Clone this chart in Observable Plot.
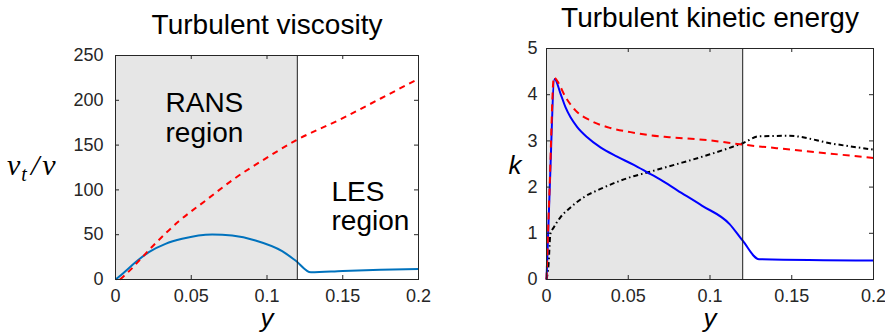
<!DOCTYPE html>
<html><head><meta charset="utf-8">
<script src="https://cdn.jsdelivr.net/npm/d3@7"></script>
<script src="https://cdn.jsdelivr.net/npm/@observablehq/plot@0.6"></script>
<style>
body{margin:0;background:#fff;}
#wrap{position:relative;width:885px;height:334px;overflow:hidden;background:#fff;}
#wrap svg{position:absolute;top:0;}
</style></head><body><div id="wrap"></div>
<script>
// ---- shared ----
const ransLesSplit = 0.12;
const xTicks = [0, 0.05, 0.1, 0.15, 0.2];
const xTickLabels = ["0", "0.05", "0.1", "0.15", "0.2"];
const nutTicks = [0, 50, 100, 150, 200, 250];
const kTicks = [0, 1, 2, 3, 4, 5];
const titles = ["Turbulent viscosity", "Turbulent kinetic energy"];
const regionLabels = ["RANS\nregion", "LES\nregion"];

// ---- left panel: nu_t / nu ----
const nutHybridY = [0, 0.006, 0.0132, 0.022, 0.033, 0.044, 0.0638, 0.077, 0.0924, 0.11, 0.1188, 0.129, 0.15, 0.175, 0.2];
const nutHybridV = [0, 8.5, 19.3, 30.5, 39.8, 45.4, 50.2, 49, 43.5, 31.6, 21.2, 8.0, 9.5, 10.8, 11.8];
const nutRansY = [0.003, 0.01, 0.015, 0.025, 0.0418, 0.0594, 0.078, 0.099, 0.1188, 0.15, 0.175, 0.2];
const nutRansV = [0, 11, 20, 38, 65, 88, 112, 135, 155, 180, 202, 224];

// ---- right panel: k ----
const kBlueY = [0, 0.002, 0.0049, 0.0086, 0.0116, 0.0147, 0.0188, 0.0249, 0.033, 0.0432, 0.0534, 0.0616, 0.0697, 0.08, 0.095, 0.112, 0.12, 0.13, 0.2];
const kBlueV = [0, 2.0, 4.34, 4.02, 3.73, 3.51, 3.30, 3.08, 2.86, 2.66, 2.48, 2.32, 2.16, 1.93, 1.60, 1.2, 0.84, 0.44, 0.41];
const kRedY = [0, 0.002, 0.0045, 0.0065, 0.0116, 0.0177, 0.0269, 0.039, 0.0514, 0.0636, 0.075, 0.1, 0.12, 0.15, 0.2];
const kRedV = [0, 2.1, 4.38, 4.30, 3.95, 3.66, 3.44, 3.28, 3.19, 3.12, 3.08, 3.01, 2.92, 2.81, 2.63];
const kBlackY = [0, 0.0012, 0.0024, 0.0045, 0.0086, 0.0147, 0.0228, 0.033, 0.043, 0.05, 0.062, 0.08, 0.1, 0.112, 0.12, 0.13, 0.148, 0.175, 0.2];
const kBlackV = [0, 0.3, 0.99, 1.13, 1.35, 1.56, 1.78, 1.96, 2.11, 2.20, 2.32, 2.50, 2.71, 2.85, 2.95, 3.10, 3.11, 2.94, 2.81];

const zip = (xs, vs) => xs.map((x, i) => ({x, v: vs[i]}));
const axisColor = "#262626";
const font = "'Liberation Sans', Arial, Helvetica, sans-serif";

function panel({width, height, mt, mr, mb, ml, yDomain, yTicks, yPad, series, title, titleDy, regionMarks, extra}) {
  const H = height - mt - mb;
  const W = width - ml - mr;
  const tick = 4;
  return Plot.plot({
    width, height,
    marginTop: mt, marginRight: mr, marginBottom: mb, marginLeft: ml,
    x: {domain: [0, 0.2]},
    y: {domain: yDomain},
    style: {fontFamily: font, fontSize: "18px", color: axisColor, background: "white", overflow: "visible"},
    marks: [
      Plot.rect([{from: 0, to: ransLesSplit}], {x1: "from", x2: "to", fill: "#e6e6e6"}),
      ...series.map(s => Plot.line(s.data, {x: "x", y: "v", curve: "monotone-x", stroke: s.stroke, strokeWidth: s.width || 2, strokeDasharray: s.dash, strokeLinecap: "butt", strokeLinejoin: "round"})),
      Plot.ruleX([ransLesSplit], {stroke: "#1a1a1a", strokeWidth: 1}),
      Plot.ruleX(xTicks, {x: d => d, insetTop: H - tick, stroke: axisColor}),
      Plot.ruleX(xTicks, {x: d => d, insetBottom: H - tick, stroke: axisColor}),
      Plot.ruleY(yTicks, {y: d => d, insetRight: W - tick, stroke: axisColor}),
      Plot.ruleY(yTicks, {y: d => d, insetLeft: W - tick, stroke: axisColor}),
      Plot.frame({stroke: axisColor, strokeWidth: 1}),
      Plot.axisX(xTicks, {tickSize: 0, tickPadding: 10, fontSize: 18, tickFormat: d => xTickLabels[xTicks.indexOf(d)], label: null}),
      Plot.axisY(yTicks, {tickSize: 0, tickPadding: yPad, fontSize: 18, label: null}),
      Plot.text([title], {text: d => d, frameAnchor: "top", dy: titleDy, lineAnchor: "bottom", fontSize: 28, fill: "#000"}),
      Plot.text(["y"], {text: d => d, frameAnchor: "bottom", dy: 47, lineAnchor: "bottom", fontSize: 26, fontStyle: "italic", fill: "#000"}),
      ...regionMarks,
      ...extra
    ]
  });
}

const left = panel({
  width: 440, height: 334, mt: 55, mr: 22, mb: 55, ml: 115,
  yDomain: [0, 250], yTicks: nutTicks, yPad: 12,
  title: titles[0], titleDy: -22,
  series: [
    {data: zip(nutHybridY, nutHybridV), stroke: "#0072BD", width: 2},
    {data: zip(nutRansY, nutRansV), stroke: "#FF0000", width: 2, dash: "6,5"}
  ],
  regionMarks: [
    Plot.text([regionLabels[0]], {text: d => d, frameAnchor: "top-left", dx: 50, dy: 35, textAnchor: "start", lineAnchor: "top", fontSize: 28, lineHeight: 1.07, fill: "#000"}),
    Plot.text([regionLabels[1]], {text: d => d, frameAnchor: "top-left", dx: 216, dy: 125, textAnchor: "start", lineAnchor: "top", fontSize: 28, lineHeight: 1.04, fill: "#000"})
  ],
  extra: []
});

const right = panel({
  width: 445, height: 334, mt: 48, mr: 12, mb: 55, ml: 106,
  yDomain: [0, 5], yTicks: kTicks, yPad: 9,
  title: titles[1], titleDy: -22,
  series: [
    {data: zip(kBlackY, kBlackV), stroke: "#000000", width: 2, dash: "5,3,1.5,3"},
    {data: zip(kBlueY, kBlueV), stroke: "#0000FF", width: 2},
    {data: zip(kRedY, kRedV), stroke: "#FF0000", width: 2, dash: "7,5"}
  ],
  regionMarks: [],
  extra: [
    Plot.text(["k"], {text: d => d, frameAnchor: "left", dx: -38, dy: 9.5, textAnchor: "start", lineAnchor: "bottom", fontSize: 26, fontStyle: "italic", fill: "#000"})
  ]
});

left.style.left = "0px";
right.style.left = "440px";
const wrap = document.getElementById("wrap");
wrap.appendChild(left);
wrap.appendChild(right);

// y-axis label nu_t / nu with a subscript
const lbl = d3.select(left).append("text")
  .attr("x", 7).attr("y", 175)
  .attr("text-anchor", "start")
  .attr("font-family", "'Liberation Serif', 'DejaVu Serif', serif")
  .attr("font-style", "italic").attr("font-size", 30).attr("fill", "#000");
lbl.append("tspan").text("ν");
lbl.append("tspan").attr("dy", 6).attr("font-size", 20).attr("dx", 1).text("t");
lbl.append("tspan").attr("dy", -6).attr("dx", 4).text("/");
lbl.append("tspan").attr("dx", 3).text("ν");
</script>
</body></html>
